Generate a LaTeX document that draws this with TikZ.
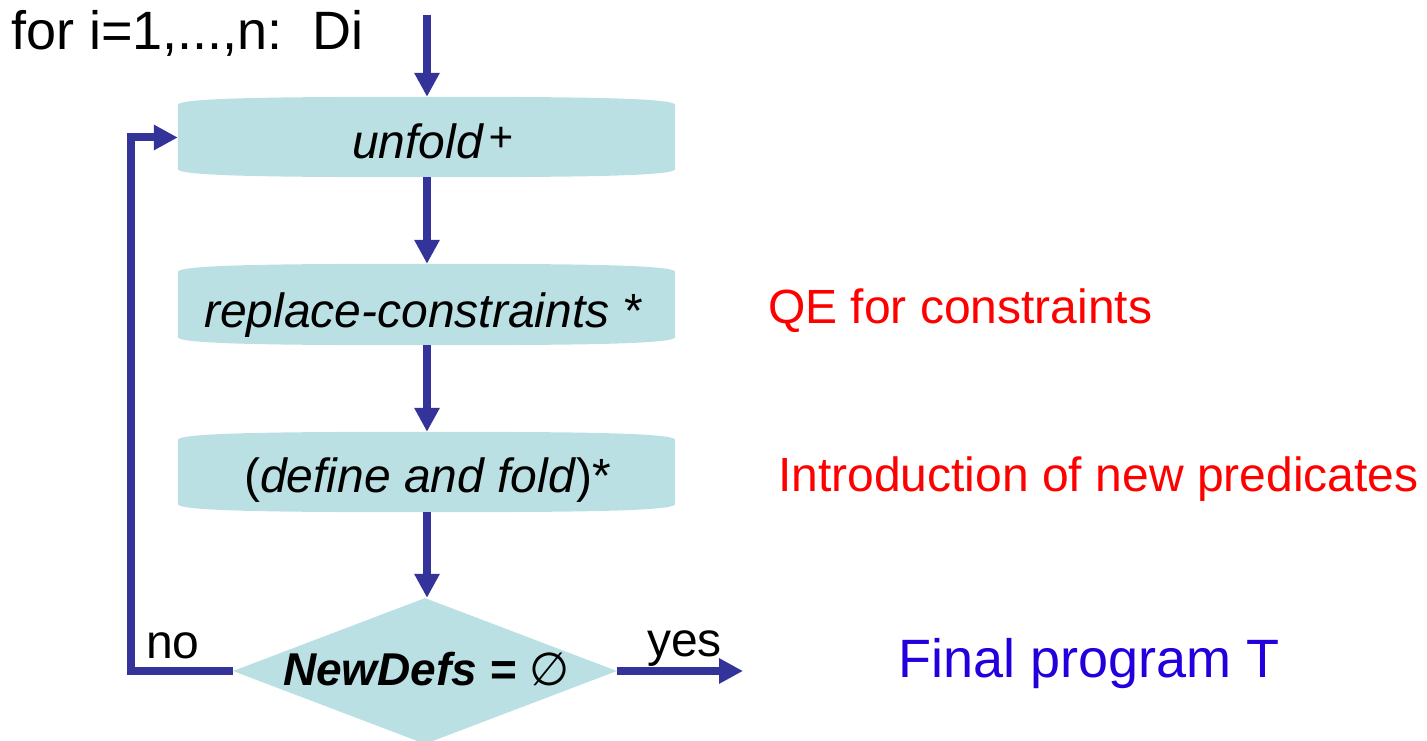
\documentclass[tikz,border=0pt]{standalone}
\usepackage{fontspec}
\setmainfont{Liberation Sans}
\newfontfamily\symfont{DejaVu Sans}
\usetikzlibrary{arrows.meta,shapes.geometric,calc}
\definecolor{boxfill}{RGB}{186,224,227}
\definecolor{arrowblue}{RGB}{51,51,153}
\definecolor{finalblue}{RGB}{34,0,221}
\newcommand\tapefill[1]{%
  \fill[boxfill] let \p1=(#1.north west), \p2=(#1.south east), \n1={0.5*(\x1+\x2)} in
  (\x1,\y2+8pt) -- (\x1,\y1-8pt) .. controls (\x1+2pt,\y1-1pt) and (\n1-150pt,\y1) .. (\n1,\y1)
  .. controls (\n1+150pt,\y1) and (\x2-2pt,\y1-1pt) .. (\x2,\y1-8pt) -- (\x2,\y2+8pt)
  .. controls (\x2-2pt,\y2+1pt) and (\n1+150pt,\y2) .. (\n1,\y2)
  .. controls (\n1-150pt,\y2) and (\x1+2pt,\y2+1pt) .. (\x1,\y2+8pt) -- cycle;}
\begin{document}
\begin{tikzpicture}[x=1pt,y=-1pt,
  tapebox/.style={rectangle,draw=none,inner sep=0pt,minimum width=497pt},
  txt/.style={inner sep=0pt,font=\fontsize{48}{56}\selectfont},
  conn/.style={draw=arrowblue,line width=8pt,-{Triangle[length=24pt,width=24pt]}},
  ]
\useasboundingbox (0,0) rectangle (1427,741);
% boxes
\node[tapebox,minimum height=80pt] (b1) at (426.5,137) {};
\node[tapebox,minimum height=81pt] (b2) at (426.5,304.5) {};
\node[tapebox,minimum height=80pt] (b3) at (426.5,472) {};
\tapefill{b1}\tapefill{b2}\tapefill{b3}
\node[diamond,draw=none,fill=boxfill,inner sep=0pt,minimum width=384pt,minimum height=146pt] (d) at (425,671) {};
% texts
\node[txt,anchor=base west,font=\fontsize{54}{60}\selectfont] (title) at (11,50) {for i=1,...,n:\ \ Di};
\node[txt,anchor=base west] (t1) at (352,158) {\itshape unfold\hspace{6pt}\raisebox{6pt}{\fontsize{42}{44}\selectfont +}};
\node[txt,anchor=base west] (t2) at (204,327) {\itshape replace-constraints *};
\node[txt,anchor=base west] (t3) at (244,492) {(\textit{define and fold})*};
\node[txt,anchor=base west,font=\fontsize{46}{54}\selectfont] (t4) at (283,685) {\textbf{\textit{NewDefs} =} {\symfont\itshape ∅}};
\node[txt,anchor=base west,text=red] (qe) at (768,323) {QE for constraints};
\node[txt,anchor=base west,text=red] (intro) at (778,491) {Introduction of new predicates};
\node[txt,anchor=base west,text=finalblue,font=\fontsize{54}{60}\selectfont] (final) at (898,677) {Final program T};
\node[txt,anchor=base west] (no) at (146,658) {no};
\node[txt,anchor=base west] (yes) at (647,656) {yes};
% connectors
\coordinate (start) at (427,15);
\coordinate (yesend) at (743,671);
\draw[conn] (start) -- (b1.north -| start);
\draw[conn] (b1.south -| start) -- (b2.north -| start);
\draw[conn] (b2.south -| start) -- (b3.north -| start);
\draw[conn] (b3.south -| start) -- (d.north -| start);
\draw[conn] (d.east) -- (yesend);
\draw[conn] (d.west) -| (131,137.5) -- (b1.west |- 0,137.5);
\end{tikzpicture}
\end{document}
